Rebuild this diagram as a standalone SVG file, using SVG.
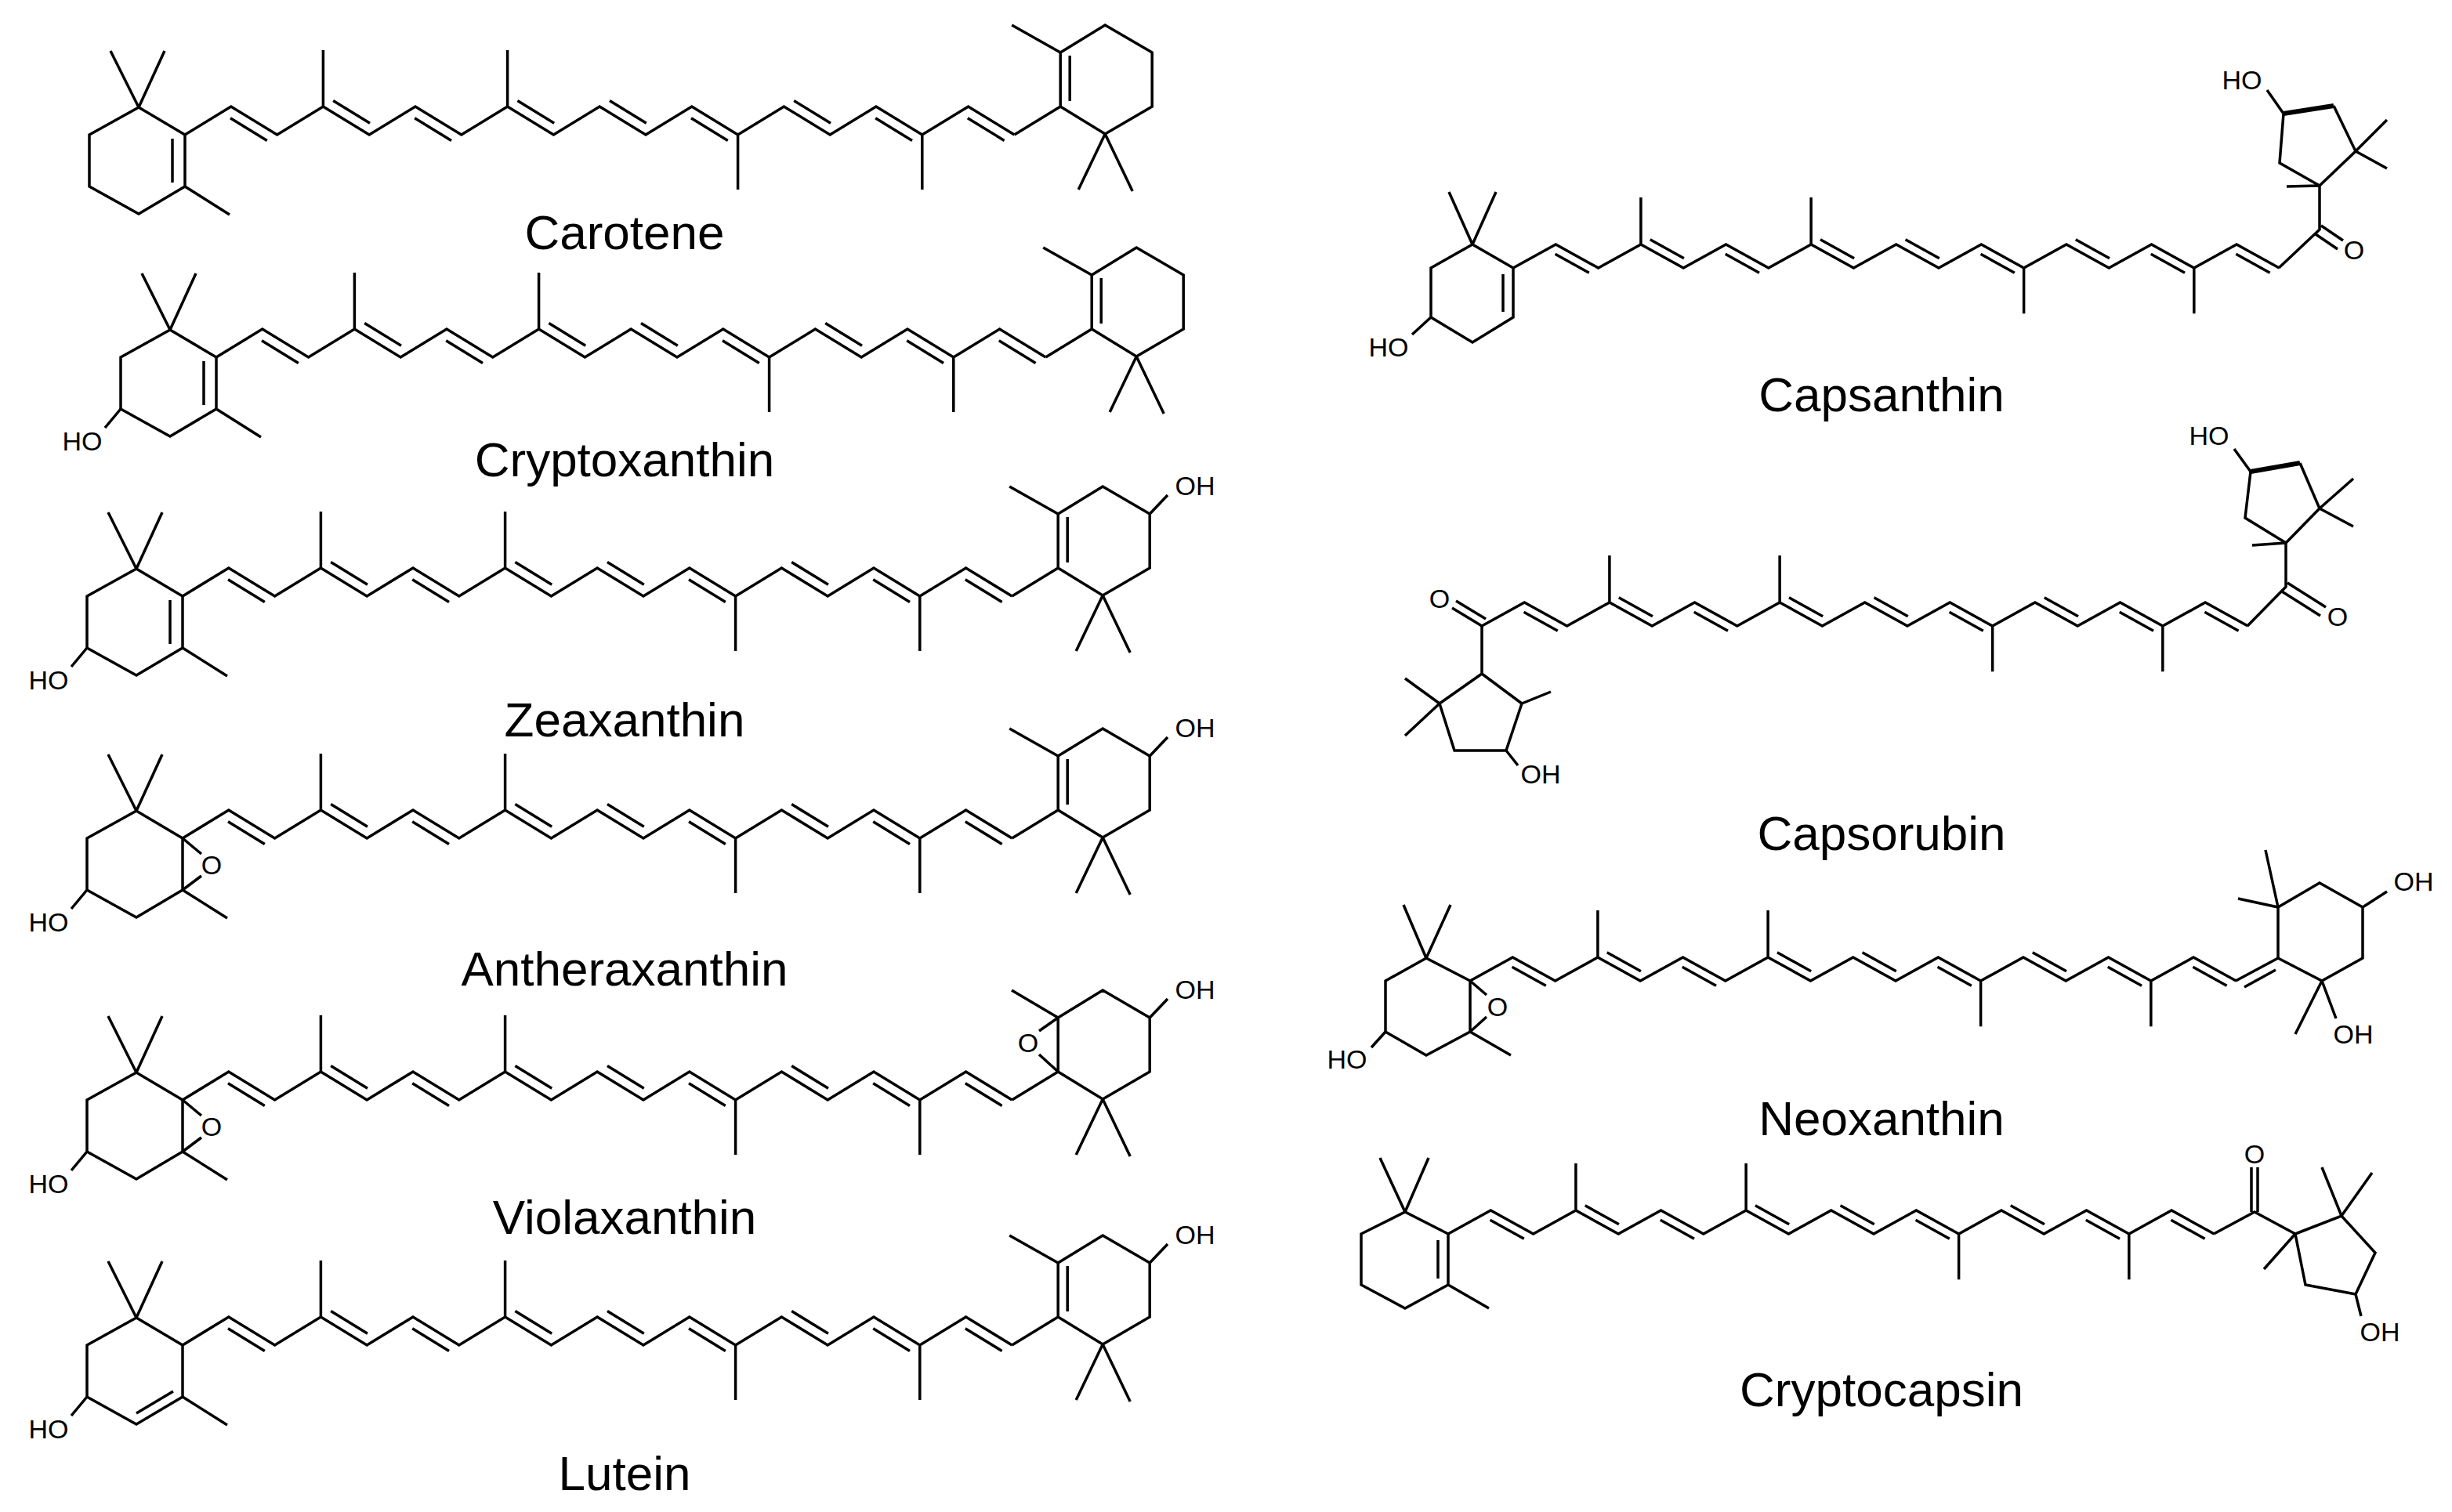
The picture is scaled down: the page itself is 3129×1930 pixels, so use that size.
<svg xmlns="http://www.w3.org/2000/svg" xmlns:xlink="http://www.w3.org/1999/xlink" width="3129" height="1930" viewBox="0 0 3129 1930">
<style>
.b{fill:none;stroke:#000;stroke-width:3.5;stroke-linejoin:miter;vector-effect:non-scaling-stroke}
.w{fill:none;stroke:#000;stroke-width:6}
.lab{font-family:"Liberation Sans",Arial,sans-serif;font-size:62px;fill:#000;text-anchor:middle}
.at{font-family:"Liberation Sans",Arial,sans-serif;font-size:34px;fill:#000;text-anchor:middle}
</style>
<defs>
<g id="chain">
<path class="b" d="M0,0 L58.8,-36 L117.6,0 L176.4,-36 L235.2,0 L294,-36 L352.8,0 L411.6,-36 L470.4,0 L529.2,-36 L588,0 L646.8,-36 L705.6,0 L764.4,-36 L823.2,0 L882,-36 L940.8,0 L999.6,-36 L1058.4,0 M176.4,-36 L176.4,-108 M411.6,-36 L411.6,-108 M705.6,0 L705.6,70 M940.8,0 L940.8,70 M58,-21.25 L104.8,7.45 M189.2,-43.45 L236,-14.75 M293.2,-21.25 L340,7.45 M424.4,-43.45 L471.2,-14.75 M542,-43.45 L588.8,-14.75 M646,-21.25 L692.8,7.45 M777.2,-43.45 L824,-14.75 M881.2,-21.25 L928,7.45 M998.8,-21.25 L1045.6,7.45"/>
</g>
<path id="lring" class="b" d="M0,0 L-59,-35 L-122,0 L-122,66 L-59,101 L0,66 Z M-59,-35 L-95,-107 M-59,-35 L-26,-107 M0,66 L57,102"/>
<path id="lringE" class="b" d="M0,0 L-59,-35 L-122,0 L-122,66 L-59,101 L0,66 Z M-59,-35 L-95,-107 M-59,-35 L-26,-107 M0,66 L57,102 M0,0 L24,20 M24,48 L0,66"/>
<path id="rring" class="b" d="M1058.4,0 L1117.2,-36 M1117.2,-36 L1117.2,-105 L1174.2,-140 L1234.2,-105 L1234.2,-36 L1174.2,-1 Z M1117.2,-105 L1055.2,-140 M1174.2,-1 L1140.2,70 M1174.2,-1 L1209.2,72"/>
</defs>

<g id="carotene" transform="translate(236,172)">
<use xlink:href="#chain"/>
<use xlink:href="#lring"/>
<path class="b" d="M-16,5 L-16,61"/>
<use xlink:href="#rring"/>
<path class="b" d="M1129.2,-101 L1129.2,-43"/>
</g>
<text class="lab" x="797" y="318">Carotene</text>

<g id="cryptoxanthin" transform="translate(276,456)">
<use xlink:href="#chain"/>
<use xlink:href="#lring"/>
<path class="b" d="M-16,5 L-16,61 M-122,66 L-142,90"/>
<text class="at" x="-171" y="119">HO</text>
<use xlink:href="#rring"/>
<path class="b" d="M1129.2,-101 L1129.2,-43"/>
</g>
<text class="lab" x="797" y="608">Cryptoxanthin</text>

<g id="zeaxanthin" transform="translate(233,761)">
<use xlink:href="#chain"/>
<use xlink:href="#lring"/>
<path class="b" d="M-16,5 L-16,61 M-122,66 L-142,90"/>
<text class="at" x="-171" y="119">HO</text>
<use xlink:href="#rring"/>
<path class="b" d="M1129.2,-101 L1129.2,-43 M1234.2,-105 L1257,-129"/>
<text class="at" x="1292" y="-129">OH</text>
</g>
<text class="lab" x="797" y="940">Zeaxanthin</text>

<g id="antheraxanthin" transform="translate(233,1070)">
<use xlink:href="#chain"/>
<use xlink:href="#lringE"/>
<text class="at" x="37" y="46">O</text>
<path class="b" d="M-122,66 L-142,90"/>
<text class="at" x="-171" y="119">HO</text>
<use xlink:href="#rring"/>
<path class="b" d="M1129.2,-101 L1129.2,-43 M1234.2,-105 L1257,-129"/>
<text class="at" x="1292" y="-129">OH</text>
</g>
<text class="lab" x="797" y="1258">Antheraxanthin</text>

<g id="violaxanthin" transform="translate(233,1404)">
<use xlink:href="#chain"/>
<use xlink:href="#lringE"/>
<text class="at" x="37" y="46">O</text>
<path class="b" d="M-122,66 L-142,90"/>
<text class="at" x="-171" y="119">HO</text>
<path class="b" d="M1058.4,0 L1117.2,-36 M1117.2,-36 L1117.2,-105 L1174.2,-140 L1234.2,-105 L1234.2,-36 L1174.2,-1 Z M1117.2,-105 L1058,-140 M1174.2,-1 L1140.2,70 M1174.2,-1 L1209.2,72 M1117.2,-105 L1093,-88 M1093,-58 L1117.2,-36 M1234.2,-105 L1257,-129"/>
<text class="at" x="1079" y="-61">O</text>
<text class="at" x="1292" y="-129">OH</text>
</g>
<text class="lab" x="797" y="1575">Violaxanthin</text>

<g id="lutein" transform="translate(233,1717)">
<use xlink:href="#chain"/>
<use xlink:href="#lring"/>
<path class="b" d="M-59,87 L-12,59 M-122,66 L-142,90"/>
<text class="at" x="-171" y="119">HO</text>
<use xlink:href="#rring"/>
<path class="b" d="M1129.2,-101 L1129.2,-43 M1234.2,-105 L1257,-129"/>
<text class="at" x="1292" y="-129">OH</text>
</g>
<text class="lab" x="797" y="1902">Lutein</text>

<g id="capsanthin">
<use xlink:href="#chain" transform="translate(1931,342) scale(0.9235,0.833)"/>
<path class="b" d="M1931,342 L1879,312 L1826,342 L1826,405 L1879,437 L1931,405 Z M1879,312 L1849,245 M1879,312 L1909,245 M1918,350 L1918,398 M1826,405 L1802,427"/>
<text class="at" x="1772" y="455">HO</text>
<path class="b" d="M2908,342 L2960,293 L2960,237 L2909,208 L2914,145 M2978,135 L3006,193 L2960,237 M3006,193 L3046,153 M3006,193 L3046,215 M2960,237 L2918,238 M2914,145 L2893,115 M2962,288 L2990,307 M2955,299 L2983,318"/>
<path class="w" d="M2914,145 L2978,135"/>
<text class="at" x="3004" y="331">O</text>
<text class="at" x="2861" y="114">HO</text>
</g>
<text class="lab" x="2401" y="525">Capsanthin</text>

<g id="capsorubin">
<use xlink:href="#chain" transform="translate(1891,799) scale(0.9235,0.833)"/>
<path class="b" d="M1891,799 L1891,860 M1891,860 L1837,898 L1856,958 L1922,958 L1942,898 Z M1837,898 L1793,866 M1837,898 L1793,939 M1942,898 L1979,883 M1922,958 L1937,977 M1891,799 L1853,776 M1896,790 L1858,767"/>
<text class="at" x="1837" y="776">O</text>
<text class="at" x="1966" y="1000">OH</text>
<path class="b" d="M2868,799 L2917,749 L2917,693 L2865,661 L2872,602 M2935,591 L2960,649 L2917,693 M2960,649 L3003,611 M2960,649 L3003,672 M2917,693 L2874,696 M2872,602 L2851,573 M2919,744 L2968,775 M2912,755 L2961,786"/>
<path class="w" d="M2872,602 L2935,591"/>
<text class="at" x="2983" y="799">O</text>
<text class="at" x="2819" y="568">HO</text>
</g>
<text class="lab" x="2401" y="1085">Capsorubin</text>

<g id="neoxanthin">
<use xlink:href="#chain" transform="translate(1876,1252) scale(0.9235,0.833)"/>
<path class="b" d="M1876,1252 L1820,1223 L1768,1252 L1768,1317 L1820,1347 L1876,1317 Z M1820,1223 L1791,1155 M1820,1223 L1851,1155 M1876,1317 L1928,1347 M1876,1252 L1897,1270 M1897,1298 L1876,1317 M1768,1317 L1750,1337"/>
<text class="at" x="1911" y="1297">O</text>
<text class="at" x="1719" y="1364">HO</text>
<path class="b" d="M2853,1252 L2907,1223 M2907,1223 L2907,1158 L2960,1127 L3015,1158 L3015,1223 L2963,1252 Z M2864,1260 L2904,1238 M2907,1158 L2891,1085 M2907,1158 L2856,1147 M3015,1158 L3046,1138 M2963,1252 L2929,1320 M2963,1252 L2981,1300"/>
<text class="at" x="3080" y="1137">OH</text>
<text class="at" x="3003" y="1332">OH</text>
</g>
<text class="lab" x="2401" y="1449">Neoxanthin</text>

<g id="cryptocapsin">
<use xlink:href="#chain" transform="translate(1848,1575) scale(0.9235,0.833)"/>
<path class="b" d="M1848,1575 L1793,1547 L1737,1575 L1737,1640 L1793,1670 L1848,1640 Z M1793,1547 L1761,1478 M1793,1547 L1823,1478 M1835,1583 L1835,1632 M1848,1640 L1900,1670"/>
<path class="b" d="M2825,1575 L2877,1547 L2929,1575 M2873,1547 L2873,1490 M2881,1547 L2881,1490 M2929,1575 L2988,1552 L3031,1599 L3006,1652 L2942,1640 Z M2988,1552 L2963,1490 M2988,1552 L3027,1497 M2929,1575 L2889,1620 M3006,1652 L3013,1680"/>
<text class="at" x="2877" y="1485">O</text>
<text class="at" x="3037" y="1712">OH</text>
</g>
<text class="lab" x="2401" y="1795">Cryptocapsin</text>
</svg>
